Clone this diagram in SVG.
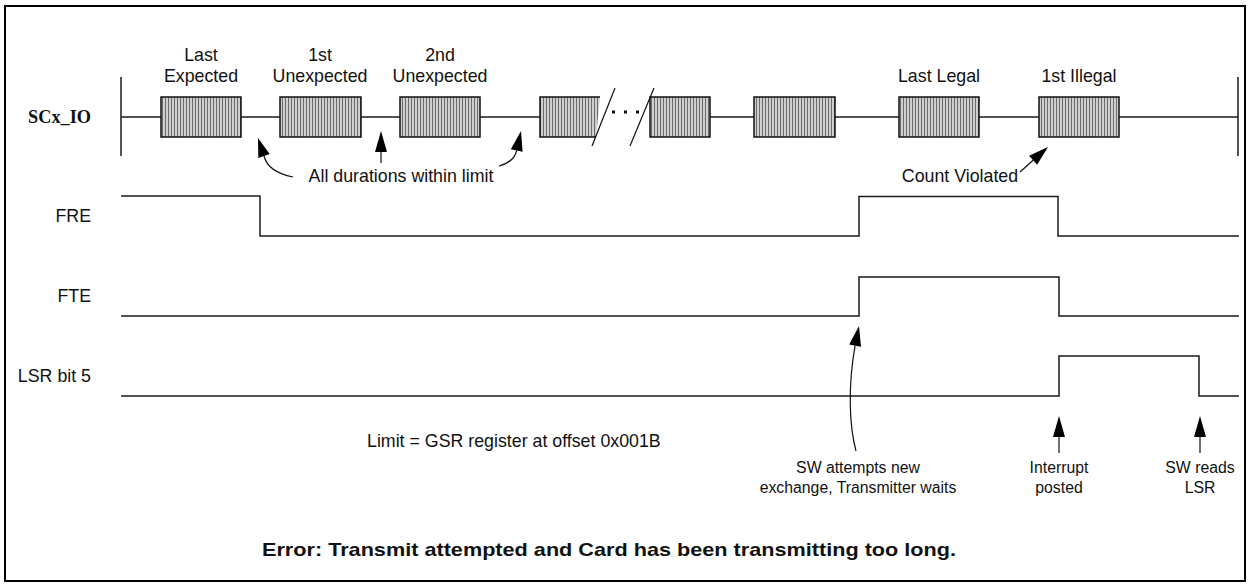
<svg xmlns="http://www.w3.org/2000/svg" width="1249" height="586" viewBox="0 0 1249 586">
  <defs>
    <pattern id="hatch" width="3" height="10" patternUnits="userSpaceOnUse">
      <rect width="3" height="10" fill="#cfcfcf"/>
      <line x1="0.5" y1="0" x2="0.5" y2="10" stroke="#6c6c6c" stroke-width="1"/>
    </pattern>
    <style>
      .t { font-family: "Liberation Sans", Arial, sans-serif; font-size: 17.8px; fill: #111; }
      .s { font-size: 15.8px; }
      .m { text-anchor: middle; }
      .e { text-anchor: end; }
      .b { font-weight: bold; }
      .sig { fill: none; stroke: #1a1a1a; stroke-width: 1.5; }
      .box { fill: url(#hatch); stroke: #111; stroke-width: 1.5; }
      .ln { fill: none; stroke: #111; stroke-width: 1.2; }
      .ah { fill: #000; stroke: none; }
    </style>
  </defs>
  <rect x="0" y="0" width="1249" height="586" fill="#fff"/>
  <rect x="5" y="6" width="1240" height="575" fill="none" stroke="#000" stroke-width="2"/>

  <g id="labels">
    <text x="28" y="123" textLength="63" lengthAdjust="spacingAndGlyphs" style="font-family:'Liberation Serif','Times New Roman',serif;font-size:18px;font-weight:bold;fill:#111">SCx_IO</text>
    <text class="t e" x="91" y="222">FRE</text>
    <text class="t e" x="91" y="302">FTE</text>
    <text class="t e" x="91" y="382">LSR bit 5</text>
  </g>

  <g id="scx-io">
    <line class="sig" x1="121" y1="77" x2="121" y2="156"/>
    <line class="sig" x1="1238" y1="77" x2="1238" y2="156"/>
    <line class="sig" x1="121" y1="117" x2="540" y2="117"/>
    <line class="sig" x1="710" y1="117" x2="1238" y2="117"/>
    <rect class="box" x="161" y="97" width="80" height="40"/>
    <rect class="box" x="280" y="97" width="81" height="40"/>
    <rect class="box" x="400" y="97" width="80" height="40"/>
    <polygon points="540,97 600,97 596,137 540,137" fill="url(#hatch)"/>
    <polyline class="ln" points="600,97 540,97 540,137 596,137" style="stroke-width:1.5"/>
    <rect class="box" x="650" y="97" width="60" height="40"/>
    <rect class="box" x="754" y="97" width="81" height="40"/>
    <rect class="box" x="899" y="97" width="80" height="40"/>
    <rect class="box" x="1039" y="97" width="80" height="40"/>
    <line class="ln" x1="592" y1="146" x2="615" y2="88"/>
    <line class="ln" x1="630" y1="146" x2="654" y2="88"/>
    <rect x="612" y="110.5" width="3" height="3" fill="#111"/>
    <rect x="624" y="110.5" width="3" height="3" fill="#111"/>
    <rect x="636" y="110.5" width="3" height="3" fill="#111"/>
  </g>

  <g id="box-labels">
    <text class="t m" x="201" y="61">Last</text>
    <text class="t m" x="201" y="82">Expected</text>
    <text class="t m" x="320" y="61">1st</text>
    <text class="t m" x="320" y="82">Unexpected</text>
    <text class="t m" x="440" y="61">2nd</text>
    <text class="t m" x="440" y="82">Unexpected</text>
    <text class="t m" x="939" y="82">Last Legal</text>
    <text class="t m" x="1079" y="82">1st Illegal</text>
  </g>

  <g id="fre"><path class="sig" d="M121 196 H260 V236 H859 V196.5 H1058 V236 H1239"/></g>
  <g id="fte"><path class="sig" d="M121 316 H859 V277 H1059 V316 H1239"/></g>
  <g id="lsr"><path class="sig" d="M121 396 H1059 V356 H1199 V396 H1239"/></g>

  <g id="annotations">
    <text class="t m" x="401" y="182">All durations within limit</text>
    <text class="t m" x="960" y="182">Count Violated</text>
    <text class="t" x="367" y="447">Limit = GSR register at offset 0x001B</text>
    <text class="t s m" x="858" y="473">SW attempts new</text>
    <text class="t s m" x="858" y="493">exchange, Transmitter waits</text>
    <text class="t s m" x="1059" y="473">Interrupt</text>
    <text class="t s m" x="1059" y="493">posted</text>
    <text class="t s m" x="1200" y="473">SW reads</text>
    <text class="t s m" x="1200" y="493">LSR</text>
    <text class="t b" x="262" y="556" style="font-size:19px" textLength="694" lengthAdjust="spacingAndGlyphs">Error:  Transmit attempted and Card has been transmitting too long.</text>
  </g>

  <g id="connectors">
    <path class="ln" d="M293 177 Q268 172 264 156"/>
    <polygon class="ah" points="258,138 269.7,154.1 258.3,157.9"/>
    <line class="ln" x1="381" y1="150" x2="381" y2="163"/>
    <polygon class="ah" points="381,131 375,152 387,152"/>
    <path class="ln" d="M499 166 Q514 162 516.7 150.5"/>
    <polygon class="ah" points="521,131 522.6,151.8 510.8,149.2"/>
    <line class="ln" x1="1020" y1="172" x2="1033.1" y2="160.3"/>
    <polygon class="ah" points="1048,147 1037.1,164.8 1029.1,155.8"/>
    <path class="ln" d="M856 451 C849 425 848 385 855.1 345.6"/>
    <polygon class="ah" points="859,326 861,346.8 849.2,344.4"/>
    <line class="ln" x1="1059" y1="436" x2="1059" y2="453"/>
    <polygon class="ah" points="1059,416 1053,437 1065,437"/>
    <line class="ln" x1="1200" y1="436" x2="1200" y2="453"/>
    <polygon class="ah" points="1200,416 1194,437 1206,437"/>
  </g>
</svg>
